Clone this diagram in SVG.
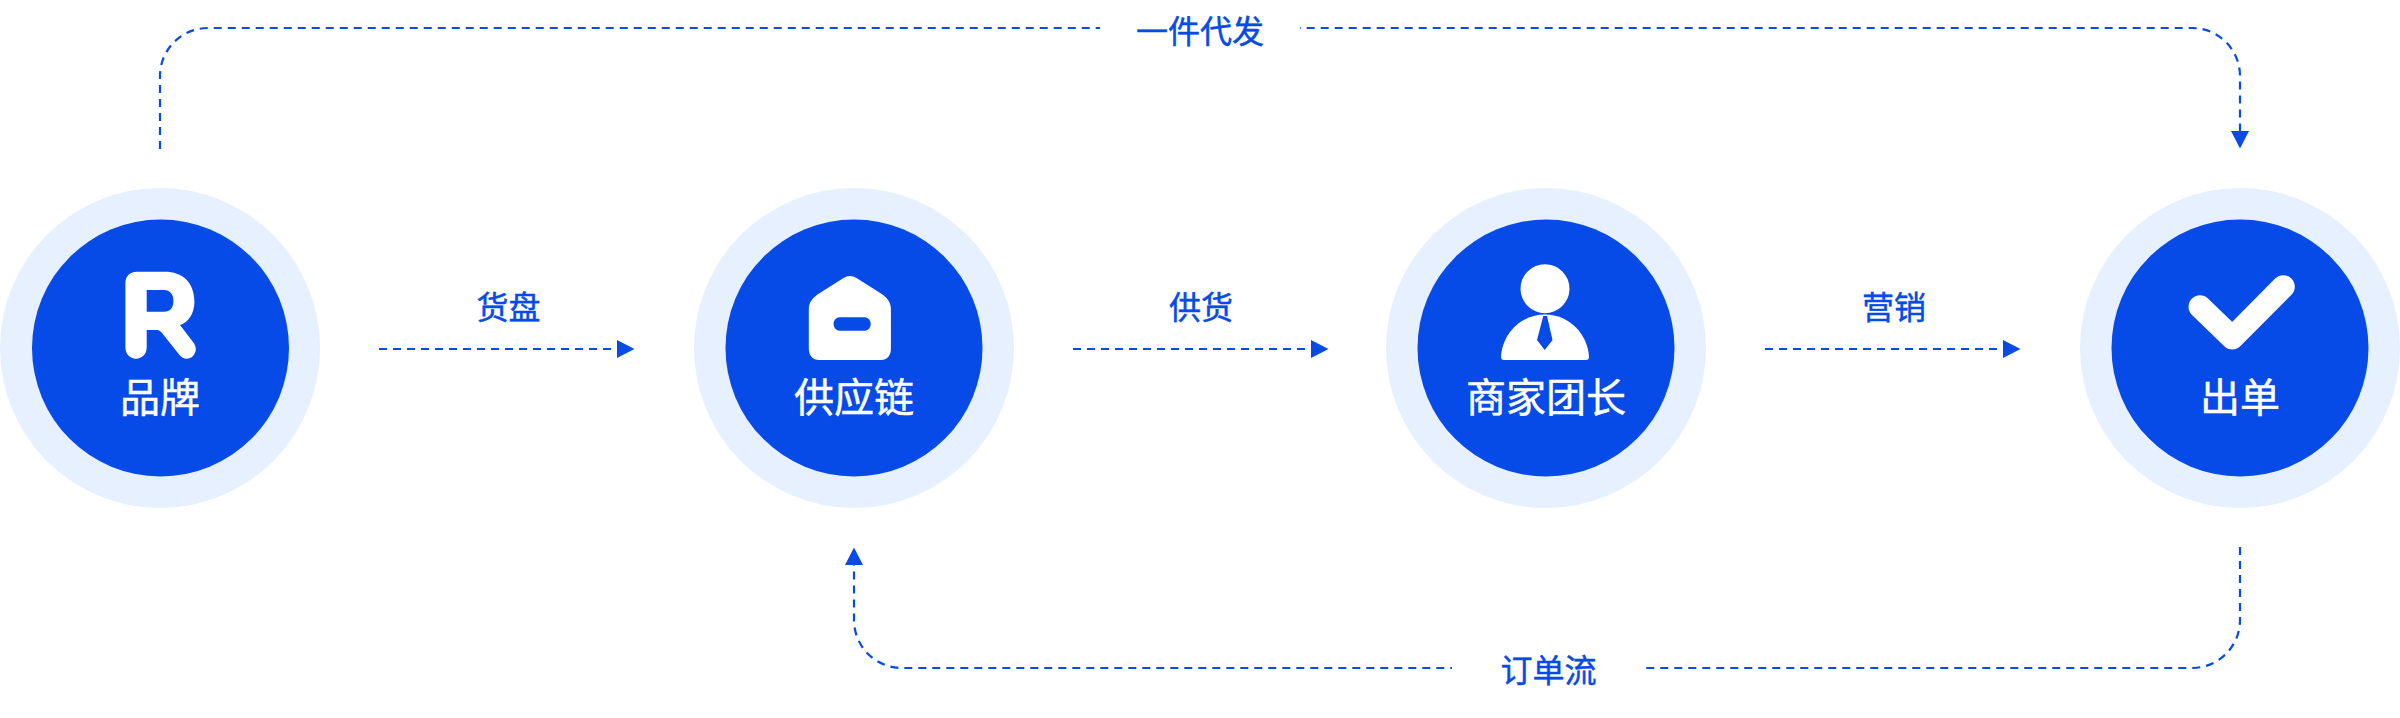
<svg xmlns="http://www.w3.org/2000/svg" width="2400" height="718" viewBox="0 0 2400 718">
<style>
text{font-family:"Noto Sans CJK SC","Noto Sans",sans-serif;text-anchor:middle;font-weight:400}
.lbl{font-size:32px;fill:#064AE8;stroke:#064AE8;stroke-width:.45}
.name{font-size:40px;fill:#fff;stroke:#fff;stroke-width:.5}
.halo{fill:#E6F0FF}
.disc{fill:#064AE8}
.ico{fill:#fff}
.dash{fill:none;stroke:#064AE8;stroke-width:2.2;stroke-dasharray:8 6}
</style>
<defs>
<marker id="arrow" markerUnits="userSpaceOnUse" markerWidth="18" markerHeight="18" viewBox="0 0 18 18" refX="0" refY="9" orient="auto"><path d="M0 0L17.5 9L0 18Z" fill="#064AE8"/></marker>
</defs>
<rect width="2400" height="718" fill="#fff"/>
<g id="connectors">
<path class="dash" d="M160 149V76A48 48 0 0 1 208 28H1100"/>
<path class="dash" stroke-dashoffset="7.3" d="M1300 28H2192A48 48 0 0 1 2240 76V131" marker-end="url(#arrow)"/>
<path class="dash" d="M2240 547V620A48 48 0 0 1 2192 668H1645"/>
<path class="dash" stroke-dashoffset="6.3" d="M1452 668H902A48 48 0 0 1 854 620V565" marker-end="url(#arrow)"/>
<path class="dash" d="M379 349H617" marker-end="url(#arrow)"/>
<path class="dash" d="M1073 349H1311" marker-end="url(#arrow)"/>
<path class="dash" d="M1765 349H2003" marker-end="url(#arrow)"/>
</g>
<g id="label-yijiandaifa"><text class="lbl" x="1200" y="42.5">一件代发</text></g>
<g id="label-dingdanliu"><text class="lbl" x="1548.5" y="682">订单流</text></g>
<g id="label-huopan"><text class="lbl" x="508.5" y="319">货盘</text></g>
<g id="label-gonghuo"><text class="lbl" x="1201" y="319">供货</text></g>
<g id="label-yingxiao"><text class="lbl" x="1894" y="319">营销</text></g>
<g id="node-brand">
<circle class="halo" cx="160" cy="348" r="160"/><circle class="disc" cx="160.5" cy="348" r="128.5"/>
<path class="ico" fill-rule="evenodd" d="M137 271.7H165C182 271.7 194.4 282 194.4 301.7C194.4 313 189 322 180 325L193 342C197 347 196.5 352 193 356C189 360 183 359.5 179.5 355L162 333C160 330.5 158 330 156 330H146.7V347.5C146.7 354 142 358.7 136 358.7C130 358.7 125.4 354 125.4 347.5V283C125.4 276 130 271.7 137 271.7ZM146.7 290V311.7H164C170 311.7 173.4 308 173.4 301C173.4 294 170 290 164 290Z"/>
<text class="name" x="160" y="412">品牌</text>
</g>
<g id="node-supply">
<circle class="halo" cx="854" cy="348" r="160"/><circle class="disc" cx="854" cy="348" r="128.5"/>
<path class="ico" fill-rule="evenodd" d="M843.5 278L819 293.5C813 297.5 808.8 302 808.8 309V349C808.8 355.5 813 360 819 360H881C887 360 890.9 355.5 890.9 349V309C890.9 302 887 297.5 881 293.5L856.5 278C852.5 275.2 847.5 275.2 843.5 278ZM839.5 317.3H864.8C868 317.3 870.7 320.3 870.7 324C870.7 327.7 868 330.7 864.8 330.7H839.5C836.3 330.7 833.6 327.7 833.6 324C833.6 320.3 836.3 317.3 839.5 317.3Z"/>
<text class="name" x="854" y="412">供应链</text>
</g>
<g id="node-merchant">
<circle class="halo" cx="1546" cy="348" r="160"/><circle class="disc" cx="1546" cy="348" r="128.5"/>
<circle class="ico" cx="1545" cy="288.7" r="24.5"/>
<path class="ico" d="M1545 314.5C1520 314.5 1502 335 1501 357Q1501 360 1504 360H1586Q1589 360 1589 357C1588 335 1570 314.5 1545 314.5Z"/>
<path class="disc" d="M1543.3 316L1537 340L1544.7 350L1552.5 340L1547 316Z"/>
<text class="name" x="1546" y="412">商家团长</text>
</g>
<g id="node-order">
<circle class="halo" cx="2240" cy="348" r="160"/><circle class="disc" cx="2240" cy="348" r="128.5"/>
<path d="M2200 306.7L2232.3 338L2283.3 286.7" fill="none" stroke="#fff" stroke-width="23" stroke-linecap="round" stroke-linejoin="round"/>
<text class="name" x="2240" y="412">出单</text>
</g>
</svg>
